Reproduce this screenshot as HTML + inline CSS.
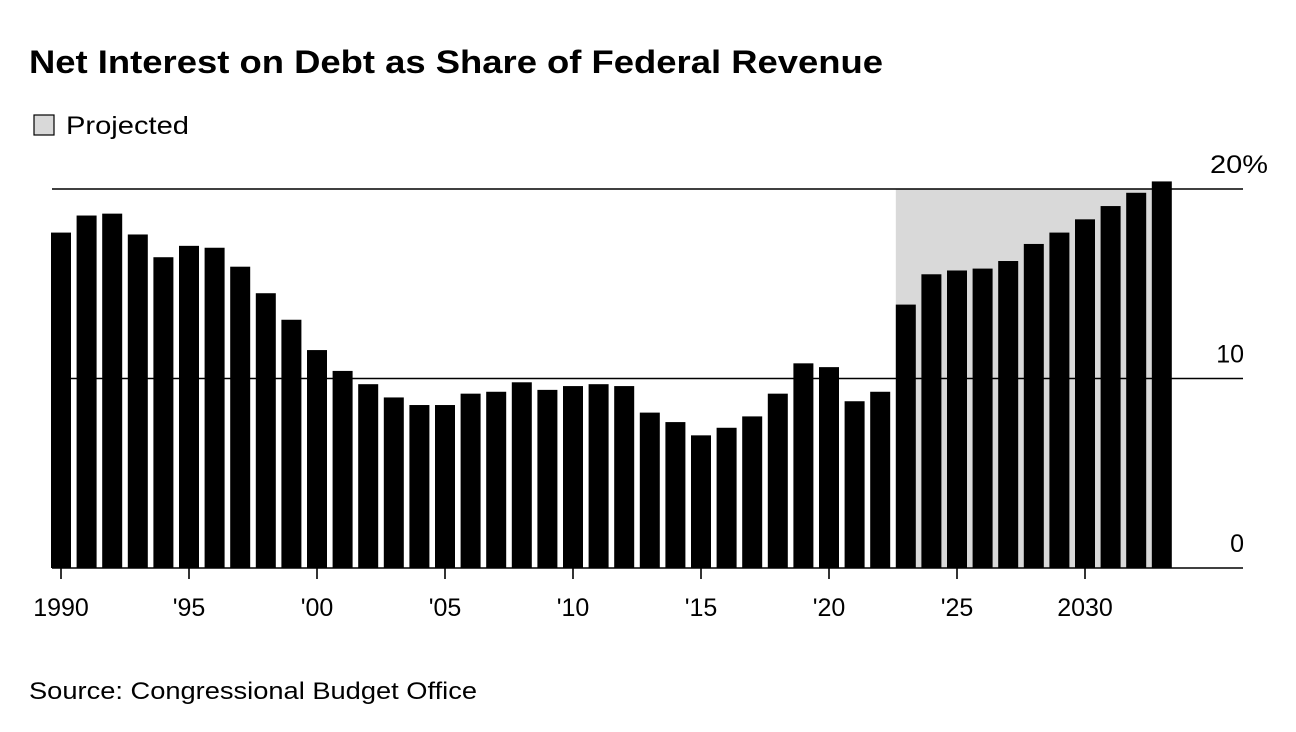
<!DOCTYPE html>
<html><head><meta charset="utf-8">
<style>
body{margin:0;background:#fff;font-family:"Liberation Sans",Arial,sans-serif;}
#wrap{position:relative;width:1296px;height:732px;overflow:hidden;}
</style></head>
<body>
<div id="wrap">
<svg id="chart" width="1296" height="732">
<text x="29" y="73" font-size="32" font-weight="bold" fill="#000" textLength="854" lengthAdjust="spacingAndGlyphs">Net Interest on Debt as Share of Federal Revenue</text>
<rect x="34" y="115" width="20" height="20" fill="#d9d9d9" stroke="#000" stroke-width="1.2"/>
<text x="66" y="134" font-size="25" fill="#000" textLength="123" lengthAdjust="spacingAndGlyphs">Projected</text>
<text x="29" y="699" font-size="24" fill="#000" textLength="448" lengthAdjust="spacingAndGlyphs">Source: Congressional Budget Office</text>
<g id="plot"></g>
</svg>
</div>
<script>
const years = [1990,1991,1992,1993,1994,1995,1996,1997,1998,1999,2000,2001,2002,2003,2004,2005,2006,2007,2008,2009,2010,2011,2012,2013,2014,2015,2016,2017,2018,2019,2020,2021,2022,2023,2024,2025,2026,2027,2028,2029,2030,2031,2032,2033];
const values = [17.7,18.6,18.7,17.6,16.4,17.0,16.9,15.9,14.5,13.1,11.5,10.4,9.7,9.0,8.6,8.6,9.2,9.3,9.8,9.4,9.6,9.7,9.6,8.2,7.7,7.0,7.4,8.0,9.2,10.8,10.6,8.8,9.3,13.9,15.5,15.7,15.8,16.2,17.1,17.7,18.4,19.1,19.8,20.4];
const yTicks = [0,10,20];
const yTickLabels = ["0","10","20%"];
const xTicks = [1990,1995,2000,2005,2010,2015,2020,2025,2030];
const xTickLabels = ["1990","'95","'00","'05","'10","'15","'20","'25","2030"];
const projStart = 2023, projEnd = 2033;

const NS="http://www.w3.org/2000/svg";
const g=document.getElementById('plot');
const x=yr=>61+(yr-1990)*25.6;
const y=v=>568-v*18.95;
const bw=20;
function mk(t,a){const e=document.createElementNS(NS,t);for(const k in a)e.setAttribute(k,a[k]);g.appendChild(e);return e;}

const shade=mk('rect',{x:x(projStart)-bw/2,y:y(20),width:x(projEnd)-x(projStart),height:y(0)-y(20),fill:'#d9d9d9'});



yTicks.forEach((t,i)=>{
  const l=mk('line',{x1:52,x2:1243,y1:y(t),y2:y(t),stroke:'#000','stroke-width':1.6});
  
  
  const tx=mk('text',{x:1244,y:y(t)-16,'font-size':25,fill:'#000','text-anchor':t===20?'start':'end'});
  if(t===20){tx.setAttribute('x',1210);tx.setAttribute('textLength',58);tx.setAttribute('lengthAdjust','spacingAndGlyphs');}
  tx.textContent=yTickLabels[i];
  
  
});

years.forEach((yr,i)=>{
  const r=mk('rect',{x:x(yr)-bw/2,y:y(values[i]),width:bw,height:y(0)-y(values[i]),fill:'#000'});
  
  
});

xTicks.forEach((yr,i)=>{
  const l=mk('line',{x1:x(yr),x2:x(yr),y1:568,y2:579,stroke:'#000','stroke-width':1.6});
  
  
  const tx=mk('text',{x:x(yr),y:616,'font-size':25,fill:'#000','text-anchor':'middle'});
  tx.textContent=xTickLabels[i];
  
  
});
</script>
</body></html>
